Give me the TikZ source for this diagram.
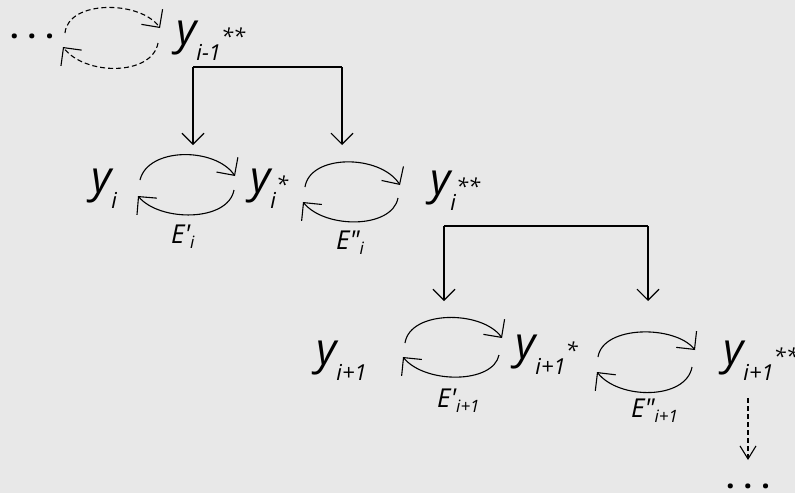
\documentclass[tikz,border=0pt]{standalone}
\usepackage{fontspec}
\newfontfamily\cs{Open Sans}[Ligatures=TeXOff]
\usetikzlibrary{arrows.meta}
\definecolor{bgc}{RGB}{232,232,232}
\newcommand\msz{\fontsize{44}{44}\selectfont}
\newcommand\ssz{\fontsize{22}{22}\selectfont}
\newcommand\esz{\fontsize{26}{26}\selectfont}
\newcommand\esub{\fontsize{17}{17}\selectfont}
\newcommand\Yv[2]{{\msz y}\raisebox{-16pt}{\ssz #1}{\ssz #2}}
\newcommand\Ev[2]{{\esz E#1}\raisebox{-5pt}{\esub #2}}
\newcommand\dotsrow{{\fontsize{30}{30}\selectfont\bfseries .\hspace{9pt}.\hspace{9pt}.}}
\tikzset{
  lbl/.style={anchor=base west, inner sep=0pt, font=\cs\itshape},
  dotlbl/.style={anchor=base, inner sep=0pt, font=\cs},
  conn/.style={line width=1.1pt, -{Straight Barb[length=13pt,width=26pt,line width=1.1pt]}},
  bconn/.style={line width=1.1pt, -{Straight Barb[length=11pt,width=22pt,line width=1.1pt]}},
  dconn/.style={conn, dash pattern=on 5pt off 3pt},
}
\begin{document}
\begin{tikzpicture}[x=1pt,y=-1pt]
\fill[bgc] (0,0) rectangle (795,493);
\useasboundingbox (0,0) rectangle (795,493);

% labels
\node[dotlbl] (dotsA) at (32,38) {\dotsrow};
\node[lbl] (yA) at (176,44) {\Yv{i-1}{**}};
\node[lbl] (yB) at (91,192) {\Yv{i}{}};
\node[lbl] (yC) at (250,192) {\Yv{i}{*}};
\node[lbl] (yD) at (430,194) {\Yv{i}{**}};
\node[lbl] (yE) at (316,364) {\Yv{i+1}{}};
\node[lbl] (yF) at (515,358) {\Yv{i+1}{*}};
\node[lbl] (yG) at (723,364) {\Yv{i+1}{**}};
\node[lbl] (eB) at (171,243) {\Ev{'}{i}};
\node[lbl] (eC) at (336,249) {\Ev{"}{i}};
\node[lbl] (eE) at (437,407) {\Ev{'}{i+1}};
\node[lbl] (eF) at (631,417) {\Ev{"}{i+1}};
\node[dotlbl] (dotsB) at (748,488) {\dotsrow};

% dashed loop
\coordinate (d1s) at (65,33);  \coordinate (d1e) at (160,28);
\coordinate (d2s) at (158,43); \coordinate (d2e) at (63,47);
\draw[dconn] (d1s) .. controls (68,0) and (140,0) .. (d1e);
\draw[dconn] (d2s) .. controls (152,76) and (85,76) .. (d2e);

% bracket 1
\coordinate (b1l) at (193,67); \coordinate (b1r) at (342,67);
\coordinate (b1lt) at (193,145); \coordinate (b1rt) at (342,145);
\draw[line width=1.1pt] (b1l) -- (b1r);
\draw[bconn] (b1l) -- (b1lt);
\draw[bconn] (b1r) -- (b1rt);

% cycle 1
\coordinate (c1a) at (140,180); \coordinate (c1b) at (235,176);
\coordinate (c1c) at (234,190); \coordinate (c1d) at (138,196);
\draw[conn] (c1a) .. controls (148,147) and (215,147) .. (c1b);
\draw[conn] (c1c) .. controls (228,222) and (160,222) .. (c1d);

% cycle 2
\coordinate (c2a) at (305,187); \coordinate (c2b) at (400,185);
\coordinate (c2c) at (398,198); \coordinate (c2d) at (303,202);
\draw[conn] (c2a) .. controls (310,154) and (380,154) .. (c2b);
\draw[conn] (c2c) .. controls (392,229) and (325,229) .. (c2d);

% bracket 2
\coordinate (b2l) at (444,226); \coordinate (b2r) at (648,226);
\coordinate (b2lt) at (444,301); \coordinate (b2rt) at (648,301);
\draw[line width=1.1pt] (b2l) -- (b2r);
\draw[bconn] (b2l) -- (b2lt);
\draw[bconn] (b2r) -- (b2rt);

% cycle 3
\coordinate (c3a) at (405,343); \coordinate (c3b) at (502,338);
\coordinate (c3c) at (499,355); \coordinate (c3d) at (403,357);
\draw[conn] (c3a) .. controls (410,310) and (482,310) .. (c3b);
\draw[conn] (c3c) .. controls (493,384) and (425,384) .. (c3d);

% cycle 4
\coordinate (c4a) at (598,357); \coordinate (c4b) at (695,350);
\coordinate (c4c) at (692,367); \coordinate (c4d) at (597,372);
\draw[conn] (c4a) .. controls (603,325) and (675,325) .. (c4b);
\draw[conn] (c4c) .. controls (686,400) and (619,400) .. (c4d);

% dashed down arrow
\coordinate (dd1) at (748,398); \coordinate (dd2) at (748,460);
\draw[line width=1.1pt, dash pattern=on 5pt off 3pt, -{Straight Barb[length=13pt,width=16pt,line width=1.1pt]}] (dd1) -- (dd2);
\end{tikzpicture}
\end{document}
